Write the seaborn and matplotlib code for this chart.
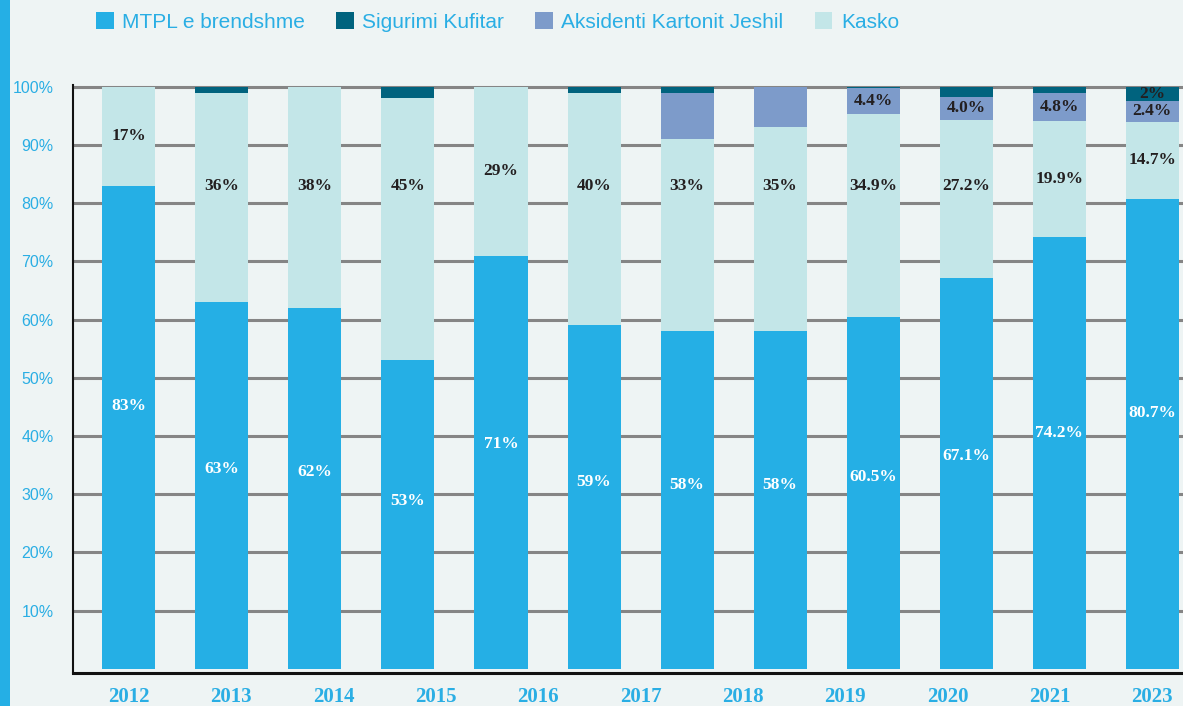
import numpy as np
import pandas as pd
import seaborn as sns
import matplotlib.pyplot as plt
from matplotlib.patches import Patch, Rectangle

# bars (12 bars in the source, but only 11 year labels printed under the axis)
bar_years = ["2012", "2013", "2014", "2015", "2016", "2017",
             "2018", "2019", "2020", "2021", "2022", "2023"]
tick_labels = ["2012", "2013", "2014", "2015", "2016", "2017",
               "2018", "2019", "2020", "2021", "2023"]

# segment heights as drawn in the picture
mtpl = [83, 63, 62, 53, 71, 59, 58, 58, 60.5, 67.1, 74.2, 80.7]
kasko = [17, 36, 38, 45, 29, 40, 33, 35, 34.9, 27.2, 19.9, 13.3]
kartoni = [0, 0, 0, 0, 0, 0, 8, 7, 4.4, 4.0, 4.8, 3.6]
kufitar = [0, 1, 0, 2, 0, 1, 1, 0, 0.2, 1.7, 1.1, 2.4]

mtpl_labels = ["83%", "63%", "62%", "53%", "71%", "59%",
               "58%", "58%", "60.5%", "67.1%", "74.2%", "80.7%"]
kasko_labels = ["17%", "36%", "38%", "45%", "29%", "40%",
                "33%", "35%", "34.9%", "27.2%", "19.9%", "14.7%"]
kartoni_labels = ["", "", "", "", "", "", "", "", "4.4%", "4.0%", "4.8%", "2.4%"]
kufitar_labels = ["", "", "", "", "", "", "", "", "", "", "", "2%"]

series_names = ["MTPL e brendshme", "Sigurimi Kufitar", "Aksidenti Kartonit Jeshil", "Kasko"]

BLUE = "#25AFE5"
DARK = "#00637E"
PURPLE = "#7D9BCA"
LIGHT = "#C3E6E8"
BG = "#EEF4F4"
TXT_BLUE = "#2AAEE4"

sns.set_style("white", {"axes.facecolor": BG, "figure.facecolor": BG})
plt.rcParams["font.family"] = ["Liberation Sans", "DejaVu Sans"]

df = pd.DataFrame({"year": bar_years, "mtpl": mtpl, "kasko": kasko,
                   "kartoni": kartoni, "kufitar": kufitar})
df["c1"] = df["mtpl"]
df["c2"] = df["c1"] + df["kasko"]
df["c3"] = df["c2"] + df["kartoni"]
df["c4"] = df["c3"] + df["kufitar"]

fig = plt.figure(figsize=(11.83, 7.06), dpi=100)
ax = fig.add_axes([73 / 1183, 33 / 706, 1 - 73 / 1183, 588 / 706])

# stacked bars: draw cumulative totals from the top down
for col, color in [("c4", DARK), ("c3", PURPLE), ("c2", LIGHT), ("c1", BLUE)]:
    sns.barplot(data=df, x="year", y=col, color=color, saturation=1,
                width=0.57, errorbar=None, linewidth=0, ax=ax, zorder=2)

ax.set_ylim(-0.7, 100.3)
ax.set_xlim(-0.6, 11.33)
ax.set_yticks(range(10, 101, 10))
ax.set_yticklabels([f"{v}%" for v in range(10, 101, 10)],
                   color=TXT_BLUE, fontsize=11.5)
ax.set_xticks(np.linspace(0, len(bar_years) - 1, len(tick_labels)))
ax.set_xticklabels(tick_labels, color=TXT_BLUE, fontsize=15,
                   family="Liberation Serif", fontweight="bold")
ax.tick_params(axis="y", length=0, pad=14)
ax.tick_params(axis="x", length=0, pad=10)
ax.set_xlabel("")
ax.set_ylabel("")

ax.set_axisbelow(True)
ax.yaxis.grid(True, color="#858585", linewidth=2.2)
ax.xaxis.grid(False)
for s in ["top", "right"]:
    ax.spines[s].set_visible(False)
ax.spines["left"].set_color("#111111")
ax.spines["left"].set_linewidth(1.5)
ax.spines["bottom"].set_color("#111111")
ax.spines["bottom"].set_linewidth(2.2)

lab_kw = dict(ha="center", va="center", fontsize=12.5,
              family="Liberation Serif", fontweight="bold", zorder=5)
for i in range(len(bar_years)):
    ax.text(i, 0.545 * mtpl[i], mtpl_labels[i], color="white", **lab_kw)
    mid = mtpl[i] + kasko[i] / 2
    ax.text(i, max(mid, 83), kasko_labels[i], color="#231F20", **lab_kw)
    if kartoni_labels[i]:
        ax.text(i, df["c2"][i] + kartoni[i] / 2, kartoni_labels[i],
                color="#231F20", **lab_kw)
    if kufitar_labels[i]:
        ax.text(i, df["c3"][i] + kufitar[i] / 2, kufitar_labels[i],
                color="#231F20", **lab_kw)

handles = [Patch(facecolor=c, edgecolor="none") for c in [BLUE, DARK, PURPLE, LIGHT]]
leg = fig.legend(handles, series_names, loc="center left",
                 bbox_to_anchor=(96 / 1183, 1 - 22 / 706), ncol=4, frameon=False,
                 fontsize=15, handlelength=0.85, handleheight=0.85,
                 handletextpad=0.4, columnspacing=1.5, borderpad=0, borderaxespad=0)
for t in leg.get_texts():
    t.set_color(TXT_BLUE)

# blue stripe on the left edge
fig.patches.append(Rectangle((0, 0), 9.5 / 1183, 1, transform=fig.transFigure,
                             facecolor=BLUE, edgecolor="none"))

fig.savefig("out.png", dpi=100, facecolor=BG)
